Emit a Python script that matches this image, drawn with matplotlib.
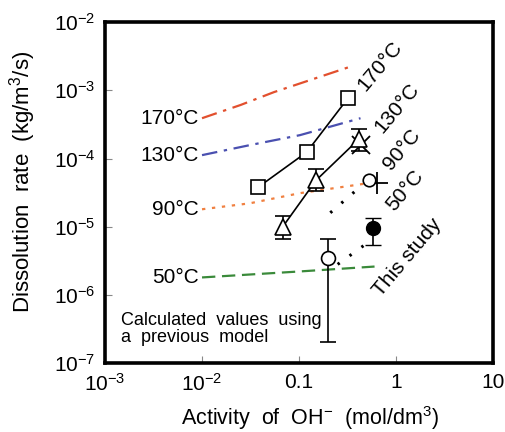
import numpy as np
import matplotlib
matplotlib.use("Agg")
from matplotlib import pyplot as plt

plt.rcParams['font.family'] = ['Liberation Sans', 'DejaVu Sans']
plt.rcParams['mathtext.fontset'] = 'custom'
plt.rcParams['mathtext.rm'] = 'Liberation Sans'
plt.rcParams['mathtext.default'] = 'regular'

# calculated values (previous model)
calc_x = [0.01, 0.025, 0.055, 0.33]
calc_170 = [3.9e-4, 6.1e-4, 9.4e-4, 2.2e-3]
calc_x130 = [0.01, 0.031, 0.102, 0.43]
calc_130 = [1.12e-4, 1.57e-4, 2.2e-4, 3.9e-4]
calc_x90 = [0.01, 0.031, 0.102, 0.55]
calc_90 = [1.8e-5, 2.2e-5, 3.1e-5, 4.4e-5]
calc_x50 = [0.01, 0.1, 0.6]
calc_50 = [1.8e-6, 2.2e-6, 2.6e-6]

# previous experiments
sq_x = [0.038, 0.12, 0.32]
sq_y = [3.8e-5, 1.24e-4, 7.7e-4]
sq_lo = [0.3e-5, 0.2e-4, 0]
tri_x = [0.068, 0.15, 0.41]
tri_y = [1.0e-5, 4.8e-5, 1.9e-4]
tri_lo = [0.35e-5, 1.5e-5, 0.6e-4]
tri_hi = [0.45e-5, 2.3e-5, 0.8e-4]
x130_x, x130_y = [0.43], [1.6e-4]
plus_x, plus_y = [0.64], [4.3e-5]

# this study
o90_x, o90_y = [0.52], [4.8e-5]
dot90_x = [0.21, 0.45]
dot90_y = [1.6e-5, 4.1e-5]
f50_x, f50_y = [0.58], [9.5e-6]
f50_lo, f50_hi = [4.1e-6], [3.9e-6]
o50_x, o50_y = [0.2], [3.5e-6]
o50_lo, o50_hi = [3.3e-6], [3.1e-6]
dot50_x = [0.25, 0.5]
dot50_y = [2.8e-6, 5.7e-6]

fig = plt.figure(figsize=(5.06, 4.32), dpi=100)
ax = fig.add_axes([0.2075, 0.1597, 0.767, 0.789])
ax.set_xscale('log')
ax.set_yscale('log')
ax.set_xlim(1e-3, 10)
ax.set_ylim(1e-7, 1e-2)

ax.plot(calc_x, calc_170, color='#e2502e', lw=1.6, ls=(0, (7, 3, 1.5, 3)))
ax.plot(calc_x130, calc_130, color='#4a50b0', lw=1.6, ls=(0, (7, 3, 1.5, 3)))
ax.plot(calc_x90, calc_90, color='#f08040', lw=1.6, ls=(0, (1.5, 3)))
ax.plot(calc_x50, calc_50, color='#3a8a3a', lw=1.6, ls=(0, (6, 3)))

ax.errorbar(sq_x, sq_y, yerr=[sq_lo, [0, 0, 0]], color='black', lw=1.2,
            marker='s', ms=10.5, mfc='white', mec='black', mew=1.2, capsize=4)
ax.errorbar(tri_x, tri_y, yerr=[tri_lo, tri_hi], color='black', lw=1.2,
            marker='^', ms=11, mfc='white', mec='black', mew=1.2, capsize=6)
ax.plot(x130_x, x130_y, ls='none', marker='x', ms=13, mec='black', mew=1.3)
ax.plot(plus_x, plus_y, ls='none', marker='+', ms=16, mec='black', mew=1.3)

ax.plot(dot90_x, dot90_y, color='black', lw=2.2, ls=(0, (0.8, 4)))
ax.plot(o90_x, o90_y, ls='none', marker='o', ms=9, mfc='white', mec='black', mew=1.2)
ax.plot(dot50_x, dot50_y, color='black', lw=2.2, ls=(0, (0.8, 4)))
ax.errorbar(f50_x, f50_y, yerr=[f50_lo, f50_hi], color='black', lw=1.2,
            marker='o', ms=10, mfc='black', mec='black', capsize=6)
ax.errorbar(o50_x, o50_y, yerr=[o50_lo, o50_hi], color='black', lw=1.2,
            marker='o', ms=10, mfc='white', mec='black', mew=1.2, capsize=6)

fs = 15
for lab, yv in [('170°C', 3.9e-4), ('130°C', 1.12e-4), ('90°C', 1.8e-5), ('50°C', 1.8e-6)]:
    ax.text(0.0092, yv, lab, ha='right', va='center', fontsize=fs)

for lab, xv, yv in [('170°C', 0.68, 2.25e-3), ('130°C', 1.02, 5.5e-4),
                    ('90°C', 1.15, 1.33e-4), ('50°C', 1.24, 3.4e-5),
                    ('This study', 1.3, 3.5e-6)]:
    ax.text(xv, yv, lab, ha='center', va='center', rotation=50, fontsize=fs,
            rotation_mode='anchor')

ax.text(0.00145, 1.75e-7, 'Calculated  values  using\na  previous  model', fontsize=13,
        ha='left', va='bottom', linespacing=1.0)

ax.set_xticks([1e-3, 1e-2, 0.1, 1, 10])
ax.set_xticklabels(['10$^{-3}$', '10$^{-2}$', '0.1', '1', '10'])
ax.set_yticks([1e-7, 1e-6, 1e-5, 1e-4, 1e-3, 1e-2])
ax.set_yticklabels(['10$^{-7}$', '10$^{-6}$', '10$^{-5}$', '10$^{-4}$', '10$^{-3}$', '10$^{-2}$'])
ax.minorticks_off()
ax.tick_params(direction='in', length=5, color='#888888', labelsize=fs, pad=7)

for s in ax.spines.values():
    s.set_linewidth(2.6)

ax.set_xlabel('Activity  of  OH$^{-}$  (mol/dm$^{3}$)', fontsize=15.5)
ax.set_ylabel('Dissolution  rate  (kg/m$^{3}$/s)', fontsize=16)
ax.xaxis.set_label_coords(0.528, -0.12)
ax.yaxis.set_label_coords(-0.173, 0.531)

fig.savefig('out.png', dpi=100)
